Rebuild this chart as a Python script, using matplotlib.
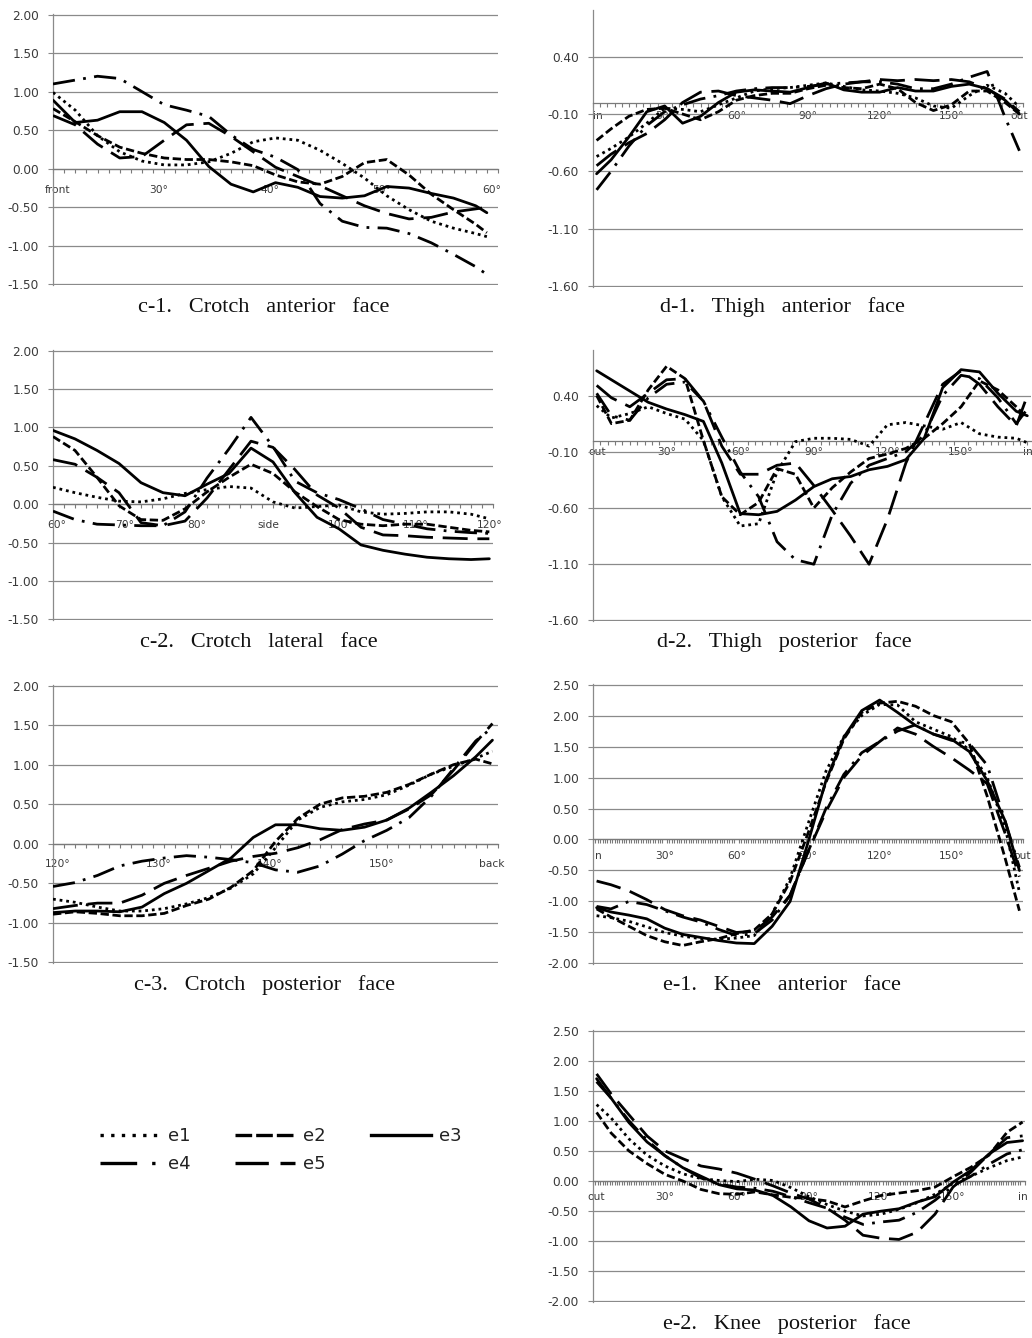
import matplotlib
matplotlib.use('Agg')
import matplotlib.pyplot as plt
from matplotlib.lines import Line2D
import numpy as np

# ---------------- data ----------------
SERIES = ['e1', 'e2', 'e3', 'e4', 'e5']

# c-1 Crotch anterior face (category index)
c1_x = [0, 2, 4, 6, 8, 10, 12, 14, 16, 18, 20, 22, 24, 26, 28, 30, 32, 34, 36, 38, 39]
c1_e1 = [0.99, 0.76, 0.43, 0.22, 0.10, 0.05, 0.05, 0.09, 0.20, 0.35, 0.40, 0.37, 0.24, 0.07, -0.12, -0.35, -0.53, -0.68, -0.77, -0.84, -0.88]
c1_e2 = [0.78, 0.61, 0.43, 0.28, 0.20, 0.14, 0.12, 0.12, 0.09, 0.04, -0.08, -0.17, -0.20, -0.10, 0.08, 0.12, -0.08, -0.33, -0.53, -0.72, -0.83]
c1_e3 = [0.89, 0.60, 0.63, 0.74, 0.74, 0.60, 0.37, 0.03, -0.20, -0.30, -0.18, -0.24, -0.36, -0.38, -0.35, -0.23, -0.25, -0.32, -0.38, -0.48, -0.57]
c1_e4 = [1.10, 1.15, 1.20, 1.17, 1.00, 0.83, 0.76, 0.68, 0.44, 0.25, 0.15, -0.01, -0.45, -0.68, -0.76, -0.77, -0.84, -0.96, -1.11, -1.27, -1.37]
c1_e5 = [0.69, 0.57, 0.32, 0.14, 0.16, 0.37, 0.57, 0.59, 0.42, 0.22, 0.02, -0.10, -0.22, -0.35, -0.48, -0.58, -0.65, -0.63, -0.56, -0.52, -0.50]
c1_tick_pos = [0.4, 9.5, 19.5, 29.5, 39.4]
c1_tick_lab = ['front', '30°', '40°', '50°', '60°']

# c-2 Crotch lateral face (degrees)
c2_x = [60, 63, 66, 69, 72, 75, 78, 81, 84, 87, 90, 93, 96, 99, 102, 105, 108, 111, 114, 117, 119.5]
c2_e1 = [0.22, 0.15, 0.09, 0.04, 0.03, 0.07, 0.14, 0.19, 0.23, 0.21, 0.03, -0.05, -0.03, -0.01, -0.10, -0.13, -0.12, -0.10, -0.10, -0.13, -0.19]
c2_e2 = [0.88, 0.70, 0.35, -0.02, -0.20, -0.21, -0.06, 0.16, 0.35, 0.52, 0.40, 0.16, -0.03, -0.20, -0.26, -0.28, -0.26, -0.26, -0.30, -0.34, -0.36]
c2_e3 = [0.96, 0.85, 0.70, 0.53, 0.28, 0.15, 0.11, 0.26, 0.40, 0.73, 0.55, 0.15, -0.17, -0.32, -0.53, -0.60, -0.65, -0.69, -0.71, -0.72, -0.71]
c2_e4 = [-0.09, -0.20, -0.26, -0.27, -0.28, -0.28, -0.10, 0.34, 0.72, 1.13, 0.75, 0.30, 0.15, 0.06, -0.06, -0.20, -0.26, -0.32, -0.35, -0.37, -0.38]
c2_e5 = [0.58, 0.52, 0.35, 0.15, -0.24, -0.28, -0.22, 0.08, 0.45, 0.82, 0.74, 0.45, 0.12, -0.05, -0.30, -0.40, -0.41, -0.43, -0.44, -0.45, -0.45]
c2_tick_pos = [60.5, 69.7, 79.6, 89.4, 99.3, 109.4, 119.5]
c2_tick_lab = ['60°', '70°', '80°', 'side', '100°', '110°', '120°']

# c-3 Crotch posterior face (category index)
c3_x = [0, 2, 4, 6, 8, 10, 12, 14, 16, 18, 20, 22, 24, 26, 28, 30, 32, 34, 36, 38, 39.5]
c3_e1 = [-0.70, -0.74, -0.80, -0.85, -0.85, -0.82, -0.76, -0.68, -0.56, -0.38, -0.05, 0.30, 0.46, 0.53, 0.56, 0.62, 0.74, 0.88, 0.98, 1.08, 1.17]
c3_e2 = [-0.89, -0.86, -0.88, -0.91, -0.91, -0.88, -0.78, -0.70, -0.55, -0.34, 0.03, 0.32, 0.50, 0.58, 0.60, 0.65, 0.75, 0.88, 1.00, 1.07, 1.01]
c3_e3 = [-0.87, -0.85, -0.85, -0.86, -0.80, -0.63, -0.50, -0.34, -0.18, 0.08, 0.24, 0.24, 0.19, 0.17, 0.21, 0.30, 0.45, 0.65, 0.86, 1.10, 1.31]
c3_e4 = [-0.54, -0.49, -0.40, -0.28, -0.22, -0.18, -0.15, -0.17, -0.20, -0.24, -0.33, -0.36, -0.28, -0.13, 0.04, 0.17, 0.33, 0.60, 0.95, 1.30, 1.47]
c3_e5 = [-0.82, -0.78, -0.75, -0.75, -0.65, -0.50, -0.40, -0.31, -0.22, -0.16, -0.12, -0.05, 0.05, 0.18, 0.25, 0.30, 0.44, 0.62, 0.93, 1.28, 1.52]
c3_tick_pos = [0.4, 9.5, 19.5, 29.5, 39.4]
c3_tick_lab = ['120°', '130°', '140°', '150°', 'back']

# d-1 Thigh anterior face (degrees)
d1_x = [1.5, 7.5, 15, 22.5, 30, 37.5, 45, 52.5, 60, 67.5, 75, 82.5, 90, 97.5, 105, 112.5, 120, 127.5, 135, 142.5, 150, 157.5, 165, 172.5, 178.5]
d1_e1 = [-0.47, -0.40, -0.30, -0.18, -0.05, -0.06, -0.08, -0.02, 0.04, 0.10, 0.12, 0.13, 0.15, 0.17, 0.14, 0.11, 0.10, 0.08, 0.04, -0.03, -0.05, 0.06, 0.15, 0.08, -0.04]
d1_e2 = [-0.33, -0.23, -0.12, -0.06, -0.05, -0.10, -0.15, -0.08, 0.02, 0.06, 0.08, 0.08, 0.12, 0.15, 0.13, 0.12, 0.16, 0.12, 0.00, -0.07, -0.02, 0.10, 0.10, 0.00, -0.10]
d1_e3 = [-0.62, -0.50, -0.30, -0.08, -0.03, -0.18, -0.12, 0.00, 0.09, 0.11, 0.10, 0.09, 0.13, 0.17, 0.11, 0.09, 0.09, 0.13, 0.10, 0.10, 0.14, 0.16, 0.12, 0.02, -0.10]
d1_e4 = [-0.76, -0.60, -0.38, -0.20, -0.08, -0.02, 0.03, 0.06, 0.10, 0.12, 0.13, 0.13, 0.14, 0.16, 0.17, 0.18, 0.18, 0.16, 0.12, 0.12, 0.16, 0.22, 0.27, -0.13, -0.42]
d1_e5 = [-0.55, -0.45, -0.35, -0.27, -0.15, 0.00, 0.09, 0.10, 0.06, 0.04, 0.02, -0.01, 0.06, 0.12, 0.16, 0.18, 0.20, 0.19, 0.20, 0.19, 0.20, 0.18, 0.12, 0.03, -0.08]
d1_tick_pos = [2, 30, 60, 90, 120, 150, 178.5]
d1_tick_lab = ['in', '30°', '60°', '90°', '120°', '150°', 'out']

# d-2 Thigh posterior face (degrees)
d2_x = [1.5, 7.5, 15, 22.5, 30, 37.5, 45, 52.5, 60, 67.5, 75, 82.5, 90, 97.5, 105, 112.5, 120, 127.5, 135, 142.5, 150, 157.5, 165, 172.5, 177]
d2_e1 = [0.31, 0.20, 0.24, 0.30, 0.24, 0.19, 0.00, -0.50, -0.76, -0.74, -0.28, -0.01, 0.02, 0.02, 0.01, -0.05, 0.14, 0.16, 0.13, 0.10, 0.16, 0.06, 0.03, 0.02, -0.02]
d2_e2 = [0.40, 0.15, 0.18, 0.45, 0.66, 0.55, 0.00, -0.50, -0.66, -0.55, -0.25, -0.30, -0.60, -0.42, -0.28, -0.16, -0.12, -0.07, 0.02, 0.15, 0.30, 0.53, 0.45, 0.30, 0.20]
d2_e3 = [0.62, 0.54, 0.44, 0.34, 0.28, 0.23, 0.17, -0.20, -0.65, -0.66, -0.63, -0.53, -0.41, -0.34, -0.32, -0.26, -0.23, -0.17, 0.02, 0.47, 0.63, 0.61, 0.42, 0.26, 0.22]
d2_e4 = [0.42, 0.22, 0.18, 0.38, 0.50, 0.52, 0.35, 0.03, -0.28, -0.50, -0.90, -1.06, -1.10, -0.66, -0.38, -0.22, -0.16, -0.10, 0.05, 0.40, 0.58, 0.55, 0.38, 0.15, 0.28]
d2_e5 = [0.49, 0.38, 0.30, 0.42, 0.54, 0.55, 0.35, -0.05, -0.30, -0.30, -0.22, -0.20, -0.40, -0.62, -0.85, -1.10, -0.70, -0.20, 0.15, 0.50, 0.62, 0.50, 0.30, 0.13, 0.40]
d2_tick_pos = [1.8, 30, 60, 90, 120, 150, 177.3]
d2_tick_lab = ['out', '30°', '60°', '90°', '120°', '150°', 'in']

# e-1 Knee anterior face (degrees)
e1_x = [1.5, 7.5, 15, 22.5, 30, 37.5, 45, 52.5, 60, 67.5, 75, 82.5, 90, 97.5, 105, 112.5, 120, 127.5, 135, 142.5, 150, 157.5, 165, 172.5, 178.5]
e1_e1 = [-1.23, -1.26, -1.32, -1.41, -1.50, -1.56, -1.60, -1.61, -1.59, -1.55, -1.20, -0.62, 0.25, 1.10, 1.66, 2.00, 2.18, 2.17, 1.90, 1.78, 1.66, 1.45, 1.00, 0.20, -0.85]
e1_e2 = [-1.12, -1.25, -1.40, -1.55, -1.65, -1.71, -1.65, -1.60, -1.52, -1.46, -1.20, -0.68, 0.10, 0.92, 1.62, 2.05, 2.20, 2.23, 2.15, 2.00, 1.90, 1.55, 0.70, -0.30, -1.15]
e1_e3 = [-1.10, -1.17, -1.22, -1.28, -1.43, -1.53, -1.58, -1.63, -1.67, -1.68, -1.40, -1.00, -0.05, 0.95, 1.65, 2.08, 2.25, 2.05, 1.84, 1.70, 1.62, 1.42, 0.95, 0.30, -0.50]
e1_e4 = [-1.08, -1.12, -1.00, -1.05, -1.15, -1.25, -1.33, -1.45, -1.55, -1.52, -1.30, -0.90, -0.20, 0.50, 1.05, 1.40, 1.58, 1.75, 1.85, 1.70, 1.60, 1.55, 1.20, 0.30, -0.45]
e1_e5 = [-0.67, -0.73, -0.83, -0.97, -1.13, -1.23, -1.30, -1.40, -1.50, -1.48, -1.25, -0.90, -0.20, 0.45, 1.00, 1.35, 1.58, 1.80, 1.70, 1.50, 1.32, 1.12, 0.90, 0.10, -0.60]
e1_tick_pos = [1.5, 30, 60, 90, 120, 150, 179.5]
e1_tick_lab = ['in', '30°', '60°', '90°', '120°', '150°', 'out']

# e-2 Knee posterior face (degrees)
e2_x = [1.5, 7.5, 15, 22.5, 30, 37.5, 45, 52.5, 60, 67.5, 75, 82.5, 90, 97.5, 105, 112.5, 120, 127.5, 135, 142.5, 150, 157.5, 165, 172.5, 179]
e2_e1 = [1.27, 1.05, 0.70, 0.43, 0.25, 0.12, 0.04, 0.01, -0.01, 0.03, 0.01, -0.11, -0.26, -0.39, -0.50, -0.58, -0.55, -0.47, -0.36, -0.22, -0.04, 0.08, 0.22, 0.34, 0.40]
e2_e2 = [1.14, 0.80, 0.50, 0.29, 0.11, 0.00, -0.14, -0.21, -0.22, -0.18, -0.23, -0.27, -0.29, -0.33, -0.43, -0.33, -0.24, -0.20, -0.16, -0.10, 0.07, 0.23, 0.43, 0.81, 0.98]
e2_e3 = [1.70, 1.38, 0.97, 0.65, 0.42, 0.22, 0.08, -0.06, -0.13, -0.15, -0.24, -0.43, -0.66, -0.78, -0.75, -0.55, -0.50, -0.46, -0.35, -0.26, -0.02, 0.18, 0.45, 0.64, 0.67]
e2_e4 = [1.65, 1.38, 1.00, 0.68, 0.42, 0.22, 0.05, -0.05, -0.10, -0.12, -0.17, -0.26, -0.36, -0.45, -0.60, -0.72, -0.68, -0.65, -0.52, -0.32, -0.08, 0.08, 0.28, 0.45, 0.52]
e2_e5 = [1.78, 1.45, 1.10, 0.75, 0.50, 0.37, 0.25, 0.20, 0.13, 0.03, -0.08, -0.20, -0.30, -0.45, -0.65, -0.90, -0.95, -0.97, -0.85, -0.55, -0.10, 0.15, 0.45, 0.72, 0.75]
e2_tick_pos = [1.5, 30, 60, 90, 120, 150, 179]
e2_tick_lab = ['out', '30°', '60°', '90°', '120°', '150°', 'in']

yt_c = [-1.5, -1.0, -0.5, 0.0, 0.5, 1.0, 1.5, 2.0]
yt_d = [-1.6, -1.1, -0.6, -0.1, 0.4]
yt_e = [-2.0, -1.5, -1.0, -0.5, 0.0, 0.5, 1.0, 1.5, 2.0, 2.5]

# ---------------- styling ----------------
W, H = 1032, 1338
fig = plt.figure(figsize=(W / 100, H / 100), dpi=100)

GRID = '#8a8a8a'
AXC = '#7a7a7a'
TXT = '#3a3a3a'
LW = 2.0
STY = {
    'e1': (0, (1, 1.4)),
    'e2': (0, (3, 1.3)),
    'e3': '-',
    'e4': (0, (8, 3, 1, 3)),
    'e5': (0, (9, 3.5)),
}


def panel(box, x, series, xlim, ylim, yticks, minor, lab_pos, labs, lab_pad, title, txy):
    l, r, t, b = box
    ax = fig.add_axes([l / W, 1 - b / H, (r - l) / W, (b - t) / H])
    for name, ys in zip(SERIES, series):
        ax.plot(x, ys, color='black', lw=LW, linestyle=STY[name],
                dash_capstyle='butt', solid_capstyle='round', solid_joinstyle='round', zorder=3)
    eps = (ylim[1] - ylim[0]) * 0.002
    ax.set_xlim(*xlim)
    ax.set_ylim(ylim[0] - eps, ylim[1] + eps)
    ax.set_yticks(yticks)
    ax.set_yticklabels([f'{v:.2f}' for v in yticks])
    ax.yaxis.grid(True, color=GRID, lw=0.9)
    ax.set_axisbelow(True)
    for s in ['top', 'right']:
        ax.spines[s].set_visible(False)
    ax.spines['left'].set_color(GRID)
    ax.spines['left'].set_linewidth(0.9)
    ax.spines['bottom'].set_position(('data', 0))
    ax.spines['bottom'].set_color(AXC)
    ax.spines['bottom'].set_linewidth(0.9)
    ax.set_xticks(lab_pos)
    ax.set_xticklabels(labs)
    ax.set_xticks(minor, minor=True)
    ax.tick_params(axis='x', which='major', length=0, pad=lab_pad, labelsize=7.7, labelcolor=TXT)
    ax.tick_params(axis='x', which='minor', length=3, width=0.8, color=AXC, direction='out')
    ax.tick_params(axis='y', which='major', length=3.6, width=0.8, color=GRID, pad=6.5,
                   labelsize=8.7, labelcolor=TXT)
    fig.text(txy[0] / W, 1 - txy[1] / H, title, ha='center', va='baseline',
             family='Liberation Serif', fontsize=16, color='#111111')
    return ax


panel((53, 498, 14, 285), c1_x, [c1_e1, c1_e2, c1_e3, c1_e4, c1_e5], (0, 40), (-1.5, 2.0), yt_c,
      np.arange(0, 41, 1), c1_tick_pos, c1_tick_lab, 11.5, 'c-1.   Crotch   anterior   face', (264, 312))
panel((593, 1023, 10, 287), d1_x, [d1_e1, d1_e2, d1_e3, d1_e4, d1_e5], (0, 180), (-1.6, 0.8), yt_d,
      np.arange(0, 181, 3), d1_tick_pos, d1_tick_lab, 6, 'd-1.   Thigh   anterior   face', (782, 312))
panel((53, 493, 350, 620), c2_x, [c2_e1, c2_e2, c2_e3, c2_e4, c2_e5], (60, 120), (-1.5, 2.0), yt_c,
      np.arange(60, 120.1, 1.5), c2_tick_pos, c2_tick_lab, 11.5, 'c-2.   Crotch   lateral   face', (259, 647))
panel((593, 1031, 350, 621), d2_x, [d2_e1, d2_e2, d2_e3, d2_e4, d2_e5], (0, 178.5), (-1.6, 0.8), yt_d,
      np.arange(0, 178.6, 3), d2_tick_pos, d2_tick_lab, 5, 'd-2.   Thigh   posterior   face', (784, 647))
panel((53, 498, 685, 963), c3_x, [c3_e1, c3_e2, c3_e3, c3_e4, c3_e5], (0, 40), (-1.5, 2.0), yt_c,
      np.arange(0, 41, 1), c3_tick_pos, c3_tick_lab, 10.8, 'c-3.   Crotch   posterior   face', (265, 990))
panel((593, 1023, 684, 964), e1_x, [e1_e1, e1_e2, e1_e3, e1_e4, e1_e5], (0, 180), (-2.0, 2.5), yt_e,
      np.arange(0, 181, 1), e1_tick_pos, e1_tick_lab, 8.6, 'e-1.   Knee   anterior   face', (782, 990))
panel((593, 1025, 1030, 1302), e2_x, [e2_e1, e2_e2, e2_e3, e2_e4, e2_e5], (0, 180), (-2.0, 2.5), yt_e,
      np.arange(0, 181, 1), e2_tick_pos, e2_tick_lab, 8, 'e-2.   Knee   posterior   face', (787, 1329))

# ---------------- legend ----------------
LEG_STY = {
    'e1': (0, (1, 2.2)),
    'e2': (0, (5, 1.2)),
    'e3': '-',
    'e4': (0, (11, 4.5, 1, 4.5)),
    'e5': (0, (10, 3.5)),
}
order = ['e1', 'e4', 'e2', 'e5', 'e3']
handles = [Line2D([], [], color='black', lw=2.4, linestyle=LEG_STY[n], dash_capstyle='butt') for n in order]
fig.legend(handles, order, loc='upper left', bbox_to_anchor=(100 / W, 1 - 1127 / H), ncol=3,
           frameon=False, fontsize=13, handlelength=3.3, handletextpad=0.45, columnspacing=2.5,
           labelspacing=0.55, borderpad=0, borderaxespad=0, labelcolor='#222222')

fig.savefig('out.png', dpi=100)
